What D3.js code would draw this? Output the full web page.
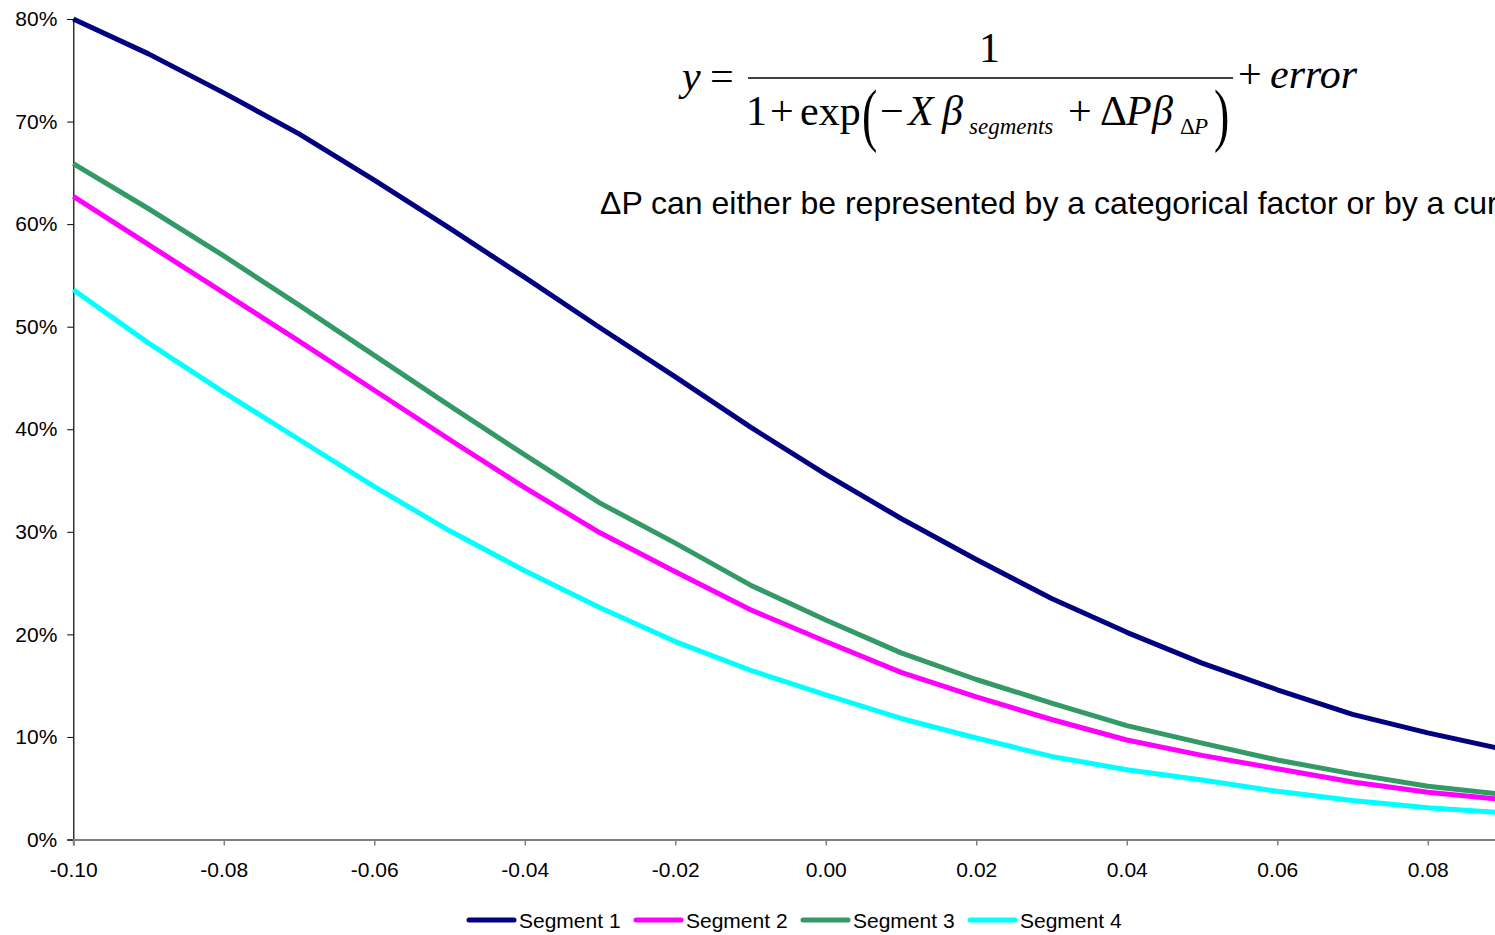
<!DOCTYPE html>
<html>
<head>
<meta charset="utf-8">
<script src="https://cdn.jsdelivr.net/npm/d3@7/dist/d3.min.js"></script>
<style>
  html, body { margin: 0; padding: 0; background: #fff; overflow: hidden; }
  svg { display: block; }
  .eq { font-family: "Liberation Serif", "Times New Roman", serif; fill: #000; }
  .sans { font-family: "Liberation Sans", Arial, sans-serif; fill: #000; }
</style>
</head>
<body>
<svg id="chart" width="1495" height="935"></svg>
<script>
// Price change on the x axis, share on the y axis
const xValues = [-0.10, -0.09, -0.08, -0.07, -0.06, -0.05, -0.04, -0.03, -0.02, -0.01,
                 0.00, 0.01, 0.02, 0.03, 0.04, 0.05, 0.06, 0.07, 0.08, 0.09];

const segment1 = [80.0, 76.6, 72.8, 68.8, 64.3, 59.6, 54.8, 49.9, 45.1, 40.2,
                  35.6, 31.3, 27.3, 23.5, 20.2, 17.2, 14.6, 12.2, 10.4, 8.8];
const segment2 = [62.7, 58.0, 53.3, 48.6, 43.8, 39.0, 34.3, 29.9, 26.1, 22.4,
                  19.3, 16.3, 13.9, 11.7, 9.7, 8.2, 6.9, 5.6, 4.6, 3.9];
const segment3 = [65.9, 61.5, 56.9, 52.1, 47.2, 42.3, 37.5, 32.8, 28.9, 24.8,
                  21.4, 18.2, 15.6, 13.3, 11.1, 9.4, 7.75, 6.4, 5.2, 4.4];
const segment4 = [53.6, 48.4, 43.6, 39.0, 34.4, 30.1, 26.2, 22.6, 19.3, 16.5,
                  14.1, 11.8, 9.9, 8.1, 6.8, 5.8, 4.7, 3.8, 3.1, 2.6];

const seriesNames = ["Segment 1", "Segment 2", "Segment 3", "Segment 4"];
const seriesColors = ["#000080", "#FF00FF", "#339966", "#00FFFF"];
const seriesValues = [segment1, segment2, segment3, segment4];

const xTicks = [-0.10, -0.08, -0.06, -0.04, -0.02, 0.00, 0.02, 0.04, 0.06, 0.08];
const yTicks = [0, 0.1, 0.2, 0.3, 0.4, 0.5, 0.6, 0.7, 0.8];

const svg = d3.select("#chart");

const x = d3.scaleLinear().domain([-0.10, 0.10]).range([73.3, 1578.3]);
const y = d3.scaleLinear().domain([0, 0.8]).range([839.5, 19]);

// Axes
const yAxis = svg.append("g")
  .attr("transform", `translate(${x(-0.10)},0)`)
  .call(d3.axisLeft(y).tickValues(yTicks).tickFormat(d3.format(".0%")).tickSize(6).tickPadding(10));
yAxis.select(".domain").attr("stroke", "#000").attr("stroke-width", 1.2);
yAxis.selectAll(".tick line").attr("stroke", "#000");
yAxis.selectAll("text").attr("class", "sans").style("font-size", "21px").attr("fill", "#000");

const xAxis = svg.append("g")
  .attr("transform", `translate(0,${y(0)})`)
  .call(d3.axisBottom(x).tickValues(xTicks).tickFormat(d3.format(".2f")).tickSize(6).tickPadding(17));
xAxis.select(".domain").attr("stroke", "#808080").attr("stroke-width", 2);
xAxis.selectAll(".tick line").attr("stroke", "#808080").attr("stroke-width", 1.5);
xAxis.selectAll("text").attr("class", "sans").style("font-size", "21px").attr("fill", "#000")
  .text(d => d3.format(".2f")(d).replace("−", "-"));

// Series lines
const line = d3.line()
  .x((d, i) => x(xValues[i]))
  .y(d => y(d / 100));

seriesValues.forEach((vals, i) => {
  svg.append("path")
    .datum(vals)
    .attr("fill", "none")
    .attr("stroke", seriesColors[i])
    .attr("stroke-width", 5)
    .attr("stroke-linejoin", "round")
    .attr("d", line);
});

// Legend
const legendX = [467, 634, 801, 968];
const legend = svg.append("g");
seriesNames.forEach((name, i) => {
  const lx = legendX[i];
  legend.append("line")
    .attr("x1", lx + 2).attr("x2", lx + 47)
    .attr("y1", 920).attr("y2", 920)
    .attr("stroke", seriesColors[i])
    .attr("stroke-width", 5)
    .attr("stroke-linecap", "round");
  legend.append("text")
    .attr("class", "sans")
    .attr("x", lx + 52).attr("y", 928)
    .style("font-size", "21px")
    .text(name);
});

// Model equation
const eq = svg.append("g").attr("class", "eq");
const eqText = (tx, ty, str, size, italic) =>
  eq.append("text").attr("x", tx).attr("y", ty)
    .style("font-size", size + "px")
    .style("font-style", italic ? "italic" : "normal")
    .text(str);

eqText(682, 90, "y", 42, true);
eqText(710, 90, "=", 42, false);
eqText(979, 62, "1", 42, false);
eq.append("line").attr("x1", 748).attr("x2", 1233).attr("y1", 78).attr("y2", 78)
  .attr("stroke", "#000").attr("stroke-width", 1.6);
eqText(746, 125, "1", 42, false);
eqText(770, 125, "+", 42, false);
eqText(800, 125, "exp", 42, false);
eq.append("text").attr("x", 862).attr("y", 138)
  .attr("transform", "translate(862,138) scale(1,1.5) translate(-862,-138)")
  .style("font-size", "46px").text("(");
eqText(880, 125, "−", 42, false);
eqText(908, 125, "X", 42, true);
eqText(942, 125, "β", 42, true);
eqText(969, 134, "segments", 23, true);
eqText(1068, 125, "+", 42, false);
eqText(1100, 125, "Δ", 42, false);
eqText(1126, 125, "P", 42, true);
eqText(1152, 125, "β", 42, true);
eqText(1180, 134, "Δ", 23, false);
eqText(1194, 134, "P", 23, true);
eq.append("text").attr("x", 1214).attr("y", 138)
  .attr("transform", "translate(1214,138) scale(1,1.5) translate(-1214,-138)")
  .style("font-size", "46px").text(")");
eqText(1238, 88, "+", 42, false);
eqText(1270, 88, "error", 42, true);

svg.append("text")
  .attr("class", "sans")
  .attr("x", 600).attr("y", 214)
  .style("font-size", "32px")
  .text("ΔP can either be represented by a categorical factor or by a curve");
</script>
</body>
</html>
